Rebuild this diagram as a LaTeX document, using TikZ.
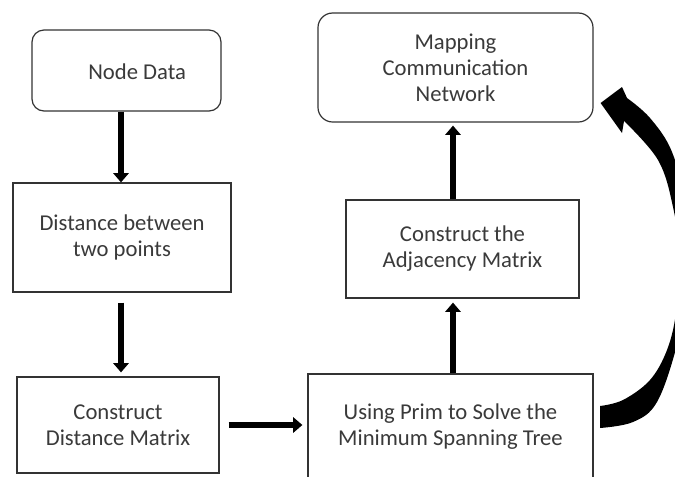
\documentclass[tikz,border=0pt]{standalone}
\usepackage{fontspec}
\setmainfont{Carlito}
\usetikzlibrary{arrows.meta,calc}

\definecolor{edgegray}{HTML}{333333}
\definecolor{textgray}{HTML}{3A3A3A}

\begin{document}
\begin{tikzpicture}[x=0.75pt,y=-0.75pt,
  box/.style={draw=edgegray, line width=0.9pt, align=center, inner sep=0pt,
    text=textgray, font=\fontsize{17pt}{19.5pt}\selectfont},
  roundbox/.style={box, rounded corners=9pt},
  arr/.style={line width=4.6pt, -{Triangle[length=7pt,width=11.5pt]}}]
\clip (0,0) rectangle (675,476);
\fill[white] (0,0) rectangle (675,476);

% boxes
\node[roundbox, minimum width=141.75pt, minimum height=60.75pt,
  label={[xshift=8pt,yshift=-1pt,text=textgray,font=\fontsize{17pt}{19.5pt}\selectfont]center:Node Data}]
  (nd) at (126.5,70.5) {};
\node[box, minimum width=163.5pt, minimum height=81.75pt]
  (dist) at (122,237.5) {Distance between\\two points};
\node[box, minimum width=151.5pt, minimum height=72pt]
  (cdm) at (118,425) {Construct\\Distance Matrix};
\node[box, minimum width=213.75pt, minimum height=79.5pt]
  (prim) at (450.5,427) {Using Prim to Solve the\\Minimum Spanning Tree};
\node[box, minimum width=174.75pt, minimum height=73.5pt]
  (adj) at (462.5,249) {Construct the\\Adjacency Matrix};
\node[roundbox, rounded corners=11pt, minimum width=206.25pt, minimum height=81.75pt]
  (map) at (455.5,67.5) {Mapping\\Communication\\Network};

% straight connectors
\coordinate (colx) at ($(prim.north)+(2.5,0)$);
\draw[arr] ($(nd.south -| dist.north)+(-1,0)$) -- ($(dist.north)+(-1,0)$);
\draw[arr] ($(dist.south)+(-1,10)$) -- ($(dist.south |- cdm.north)+(-1,-4)$);
\draw[arr] ($(cdm.east)+(9,0)$) -- ($(prim.west |- cdm.east)+(-5,0)$);
\draw[arr] (colx) -- ($(colx |- adj.south)+(0,4)$);
\draw[arr] (colx |- adj.north) -- ($(colx |- map.south)+(0,3)$);

% curved feedback arrow from the spanning tree back to the network
\coordinate (fbtail) at ($(prim.east)+(7,-10)$);
\coordinate (fbtip) at ($(map.east)+(7,35.5)$);
\fill[black] (fbtip) -- (622,87)
  -- plot[smooth, tension=0.6] coordinates {(627,98) (650,118) (672,152) (687,210) (690,280) (677,345) (657,402) (633,422) (600,428)}
  -- plot[smooth, tension=0.6] coordinates {(600,406) (623,400) (650,380) (667,350) (676,313) (680,260) (673,207) (658,160) (624,121)}
  -- (622,133) -- cycle;
\end{tikzpicture}
\end{document}
